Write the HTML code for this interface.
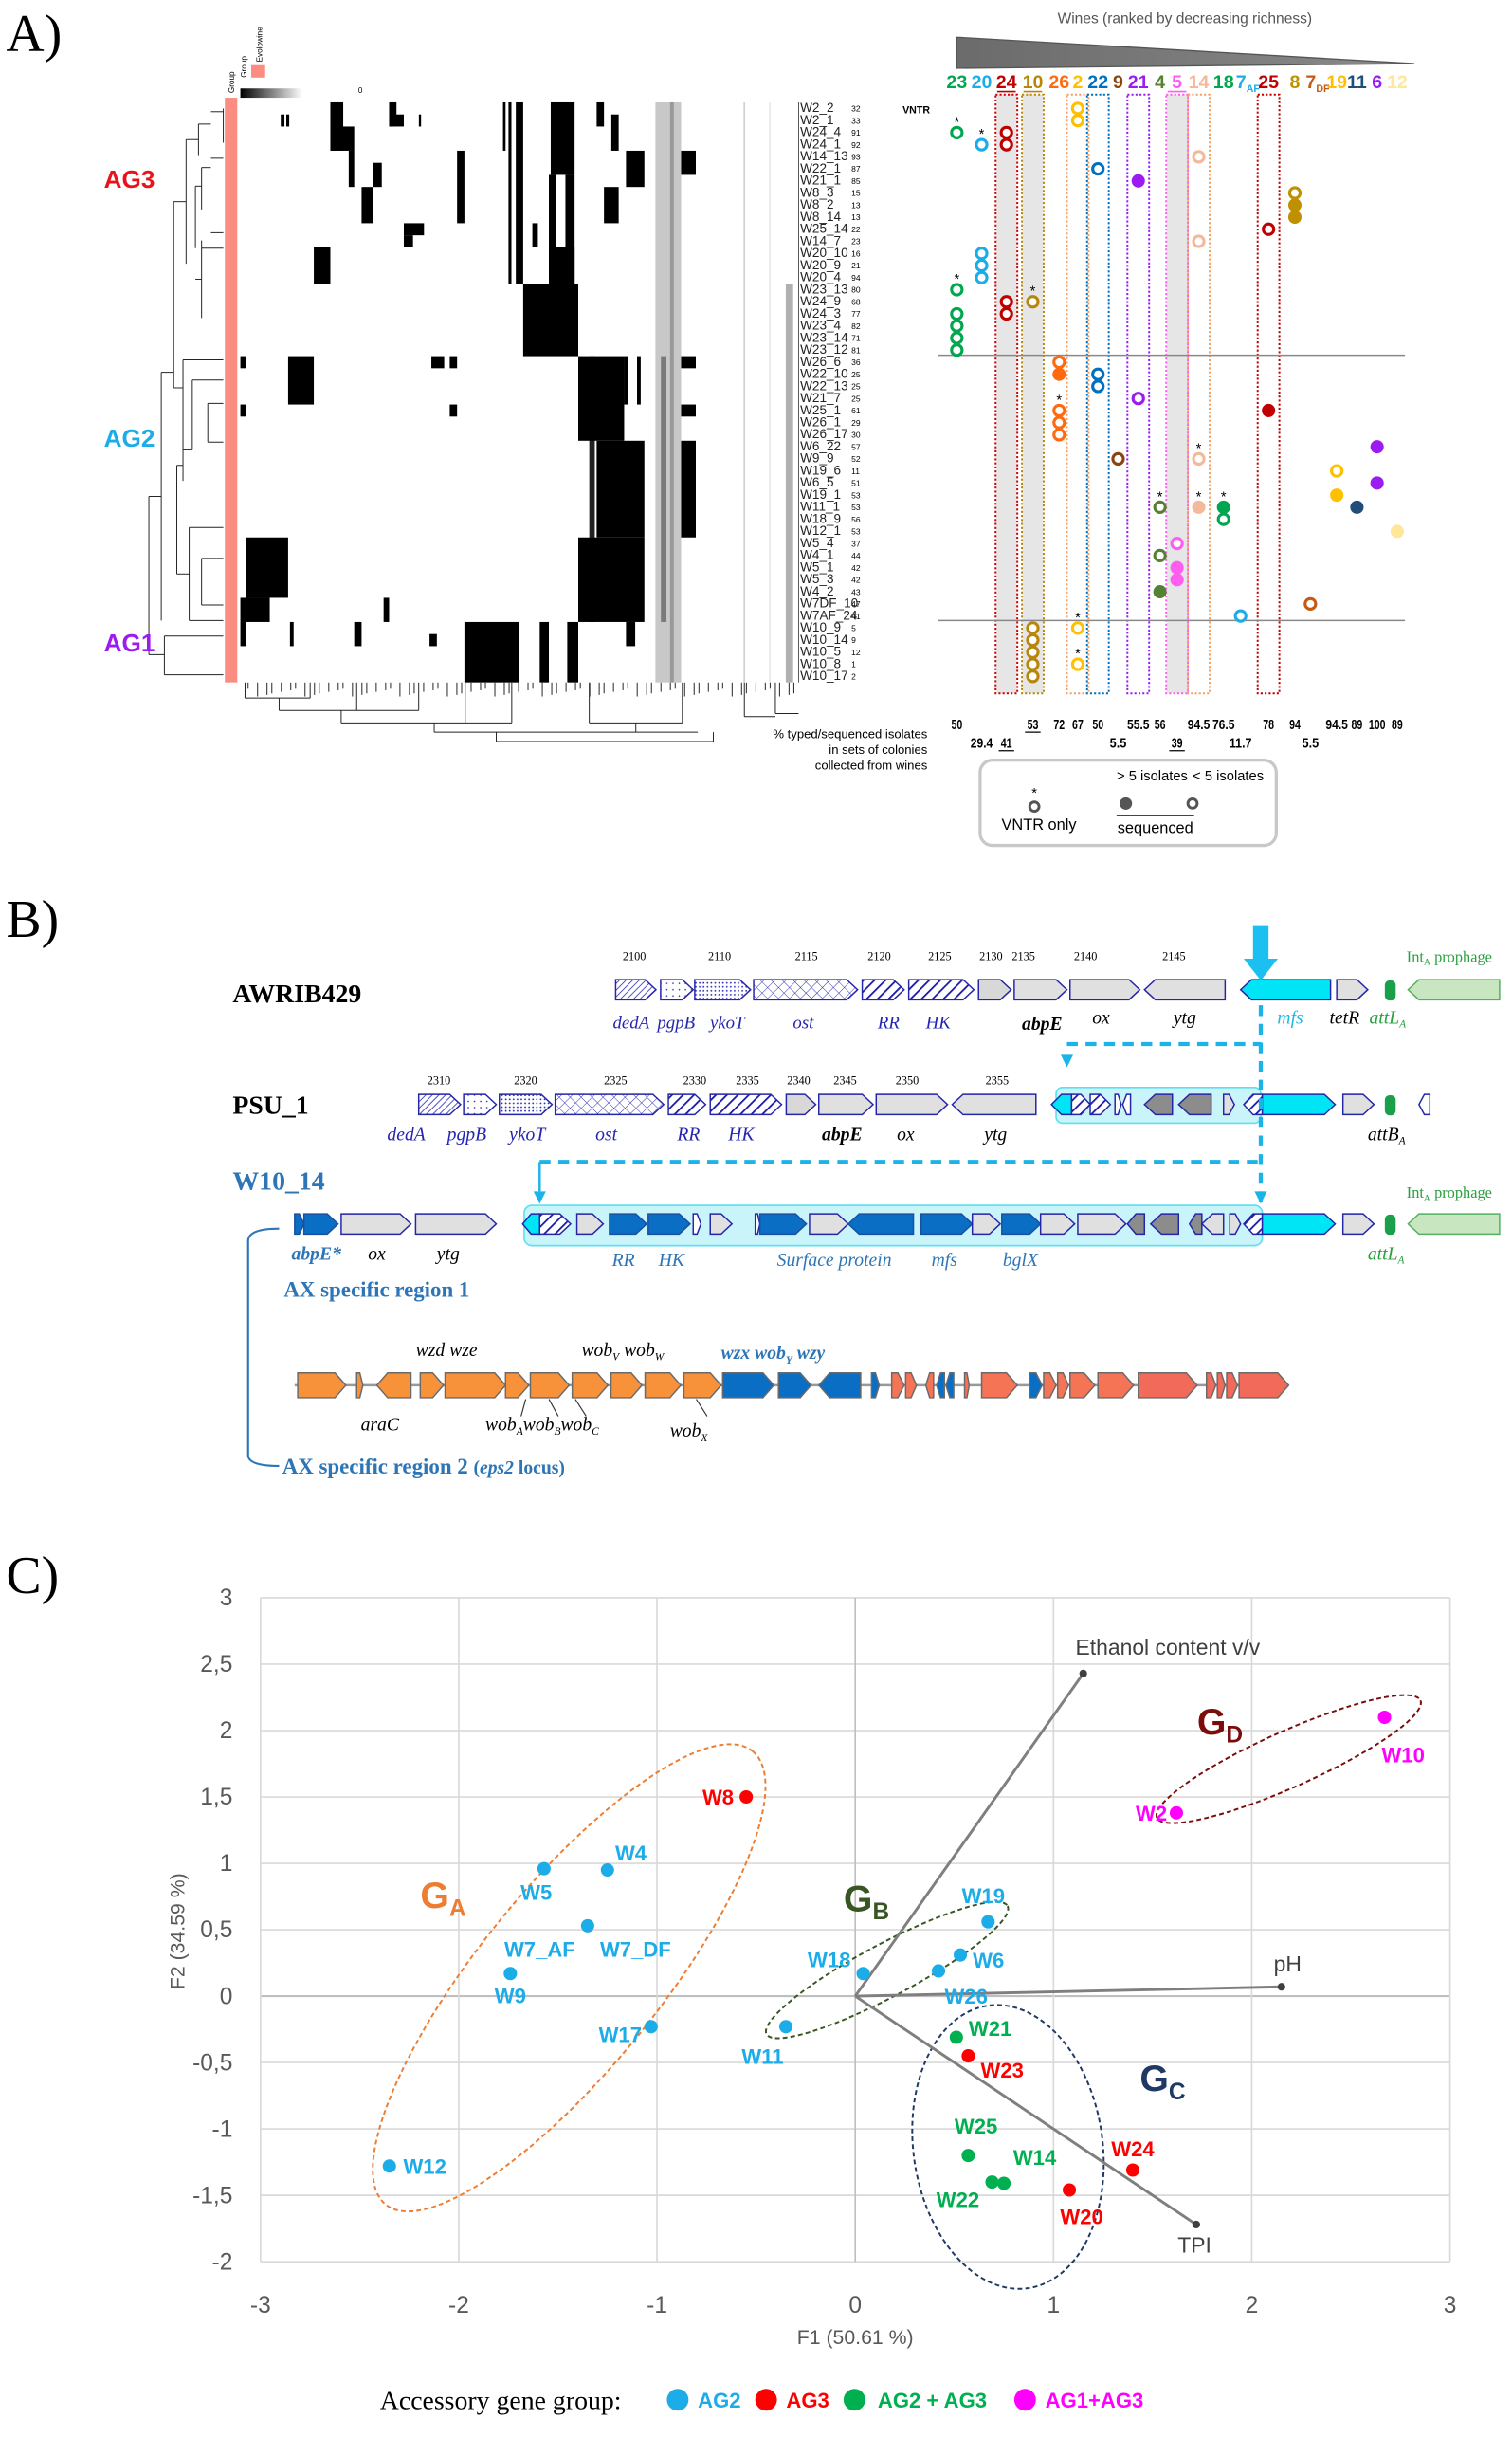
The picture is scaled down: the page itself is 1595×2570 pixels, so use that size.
<!DOCTYPE html>
<html><head><meta charset="utf-8"><title>Figure</title>
<style>
html,body{margin:0;padding:0;background:#fff;}
svg{display:block;}
text{font-family:"Liberation Sans",sans-serif;}
.serif{font-family:"Liberation Serif",serif;}
</style></head>
<body>
<svg id="fig" xmlns="http://www.w3.org/2000/svg" width="1595" height="2570" viewBox="0 0 975 1571" preserveAspectRatio="none">
<defs>
<pattern id="hatchFine" patternUnits="userSpaceOnUse" width="3" height="3" patternTransform="rotate(45)"><rect width="3" height="3" fill="#fff"/><line x1="0" y1="0" x2="0" y2="3" stroke="#2b2bb8" stroke-width="1"/></pattern>
<pattern id="hatchBold" patternUnits="userSpaceOnUse" width="5" height="5" patternTransform="rotate(45)"><rect width="5" height="5" fill="#fff"/><line x1="0" y1="0" x2="0" y2="5" stroke="#1a1aa8" stroke-width="2.2"/></pattern>
<pattern id="dots" patternUnits="userSpaceOnUse" width="4" height="4"><rect width="4" height="4" fill="#fff"/><circle cx="2" cy="2" r="0.5" fill="#2b2bb8"/></pattern>
<pattern id="dotsDense" patternUnits="userSpaceOnUse" width="2.5" height="2.5"><rect width="2.5" height="2.5" fill="#fff"/><circle cx="1.2" cy="1.2" r="0.55" fill="#2b2bb8"/></pattern>
<pattern id="cross" patternUnits="userSpaceOnUse" width="5" height="5" patternTransform="rotate(45)"><rect width="5" height="5" fill="#fff"/><line x1="0" y1="0" x2="0" y2="5" stroke="#2b2bb8" stroke-width="0.6"/><line x1="0" y1="0" x2="5" y2="0" stroke="#2b2bb8" stroke-width="0.6"/></pattern>
<linearGradient id="gradBar" x1="0" x2="1"><stop offset="0" stop-color="#000"/><stop offset="1" stop-color="#fff"/></linearGradient>
<linearGradient id="wedgeGrad" x1="0" x2="1"><stop offset="0" stop-color="#6b6b6b"/><stop offset="1" stop-color="#8a8a8a"/></linearGradient>
</defs>
</svg>
<script>
// ================= PANEL C DATA =================
const pcaWines = ["W8","W5","W4","W7","W9","W17","W12","W11","W18","W19","W6","W26","W21","W23","W25","W14","W22","W20","W24","W2","W10"];
const pcaF1 = [-0.55,-1.57,-1.25,-1.35,-1.74,-1.03,-2.35,-0.35,0.04,0.67,0.53,0.42,0.51,0.57,0.57,0.75,0.69,1.08,1.40,1.62,2.67];
const pcaF2 = [1.50,0.96,0.95,0.53,0.17,-0.23,-1.28,-0.23,0.17,0.56,0.31,0.19,-0.31,-0.45,-1.20,-1.41,-1.40,-1.46,-1.31,1.38,2.10];
const pcaGroup = ["AG3","AG2","AG2","AG2","AG2","AG2","AG2","AG2","AG2","AG2","AG2","AG2","AG2+AG3","AG3","AG2+AG3","AG2+AG3","AG2+AG3","AG3","AG3","AG1+AG3","AG1+AG3"];
const vecNames = ["Ethanol content v/v","pH","TPI"];
const vecF1 = [1.15,2.15,1.72];
const vecF2 = [2.43,0.07,-1.72];
const xTicks = [-3,-2,-1,0,1,2,3];
const yTicks = [3,2.5,2,1.5,1,0.5,0,-0.5,-1,-1.5,-2];

// ================= PANEL A DATA =================
const rowLabels = ["W2_2","W2_1","W24_4","W24_1","W14_13","W22_1","W21_1","W8_3","W8_2","W8_14","W25_14","W14_7","W20_10","W20_9","W20_4","W23_13","W24_9","W24_3","W23_4","W23_14","W23_12","W26_6","W22_10","W22_13","W21_7","W25_1","W26_1","W26_17","W6_22","W9_9","W19_6","W6_5","W19_1","W11_1","W18_9","W12_1","W5_4","W4_1","W5_1","W5_3","W4_2","W7DF_10","W7AF_24","W10_9","W10_14","W10_5","W10_8","W10_17"];
const vntr = [32,33,91,92,93,87,85,15,13,13,22,23,16,21,94,80,68,77,82,71,81,36,25,25,25,61,29,30,57,52,11,51,53,53,56,53,37,44,42,42,43,47,41,5,9,12,1,2];
const wineCols = ["23","20","24","10","26","2","22","9","21","4","5","14","18","7AF","25","8","7DF","19","11","6","12"];
const wineColors = ["#00a650","#1cace8","#c00000","#b8860b","#ff6a10","#ffc000","#0070c0","#8b4513","#9b1bf0","#548235","#ff5cf0","#f4b99a","#00a650","#1cace8","#c00000","#bf9000","#c55a11","#ffc000","#1f4e79","#9b1bf0","#ffe699"];
const wineUnder = ["24","10","5"];
const boxedCols = ["24","10","2","22","21","5","14","25"];
const pctTop = ["50","","","53","72","67","50","","55.5","56","","94.5","76.5","","78","94","","94.5","89","100","89"];
const pctBot = ["","29.4","41","","","","","5.5","","","39","","","11.7","","","5.5","","","",""];
// markers: [wine, row, filled(1)/open(0), star(1)]
const markers = [
 ["2",0,0,0],["2",1,0,0],["23",2,0,1],["20",3,0,1],["24",2,0,0],["24",3,0,0],
 ["14",4,0,0],["22",5,0,0],["21",6,1,0],["8",7,0,0],["8",8,1,0],["8",9,1,0],
 ["25",10,0,0],["14",11,0,0],["20",12,0,0],["20",13,0,0],["20",14,0,0],
 ["23",15,0,1],["24",16,0,0],["24",17,0,0],["10",16,0,1],
 ["23",17,0,0],["23",18,0,0],["23",19,0,0],["23",20,0,0],
 ["26",21,0,0],["26",22,1,0],["26",25,0,1],["26",26,0,0],["26",27,0,0],
 ["22",22,0,0],["22",23,0,0],["21",24,0,0],["25",25,1,0],
 ["6",28,1,0],["9",29,0,0],["14",29,0,1],["19",30,0,0],["6",31,1,0],["19",32,1,0],
 ["11",33,1,0],["12",35,1,0],["4",33,0,1],["14",33,1,1],["18",33,1,1],["18",34,0,0],
 ["5",36,0,0],["4",37,0,0],["5",38,1,0],["5",39,1,0],["4",40,1,0],
 ["7DF",41,0,0],["7AF",42,0,0],["2",43,0,1],["2",46,0,1],
 ["10",43,0,0],["10",44,0,0],["10",45,0,0],["10",46,0,0],["10",47,0,0]
];
// heatmap blocks: [col0,col1,row0,row1] on a 152-column grid
const hmBlocks = [
 [24.5,28,0,4],[24.5,31,2,4],[40.5,42.5,0,2],[40.5,44.5,1,2],[29.5,31,4,7],[36,38.5,5,7],[33,36,7,10],
 [44.5,50,10,11],[44.5,47,11,12],[20,24.5,12,15],[77,92,15,21],[92,104.5,21,28],[104.5,105.5,21,25],
 [108,109,21,25],[97,110,28,36],[92,110,36,43],[120,124,28,36],[120,124,21,22],[120,124,25,26],
 [13,20,21,25],[52,55.5,21,22],[57,59,21,22],[57,59,25,26],[0,1.5,21,22],[0,1.5,25,26],
 [1.5,13,36,41],[0,8,41,43],[0,1.5,43,45],[61,76,43,48],[81.5,84,43,48],[89,92,43,48],[105,107.5,43,45],
 [13.5,14.5,43,45],[31,33,43,45],[51.5,53.5,44,45],[39,40.5,41,43],
 [84.5,91,0,6],[84,86,6,15],[88.5,91,6,15],[84,91,12,15],[75,77,0,15],[73,73.8,0,15],
 [97,99,0,2],[101,103,1,4],[105,110,4,7],[99,103,7,10],[120,124,4,6],[59,61,4,10],[79.5,81,10,12],
 [11,12,1,2],[12.5,13.3,1,2],[71.5,72.2,0,4],[48.6,49.2,1,2]
];
const hmGray = [[113,120,0,48,"#c8c8c8"],[114.5,116,21,43,"#7a7a7a"],[117,118,0,48,"#999"],[148.5,150.5,15,48,"#b0b0b0"],[137,137.4,0,48,"#ccc"],[144,144.3,0,48,"#ddd"],[95,96.5,21,43,"#222"]];

// ================= BUILD =================
const NS="http://www.w3.org/2000/svg";
const svg=document.getElementById('fig');
function mk(tag,attrs,name,parent){
 const el=document.createElementNS(NS,tag);
 for(const k in attrs) el.setAttribute(k,attrs[k]);
 
 
 (parent||svg).appendChild(el);
 return el;
}
function txt(x,y,s,attrs,name,parent){
 const a=Object.assign({x:x,y:y},attrs||{});
 const t=mk('text',a,name,parent);
 t.textContent=s;
 return t;
}
function sub(t,main,subs,subSize,extra){
 t.textContent='';
 const a=document.createElementNS(NS,'tspan');a.textContent=main;t.appendChild(a);
 const b=document.createElementNS(NS,'tspan');b.textContent=subs;b.setAttribute('font-size',subSize);b.setAttribute('dy',subSize*0.35);t.appendChild(b);
 if(extra){const c=document.createElementNS(NS,'tspan');c.textContent=extra;c.setAttribute('dy',-subSize*0.35);t.appendChild(c);}
}

// ---------- Panel labels ----------
txt(4,33,"A)",{"font-size":34,class:"serif"},"panel-a-label");
txt(4,604,"B)",{"font-size":34,class:"serif"},"panel-b-label");
txt(4,1027,"C)",{"font-size":34,class:"serif"},"panel-c-label");

// ================= PANEL A =================
const gA=mk('g',{},"panel-a");
const HX0=155,HX1=515,HY0=66,RH=7.79,NC=152;
const HC=(c)=>HX0+c*(HX1-HX0)/NC;
const HR=(r)=>HY0+r*RH;
mk('rect',{x:145,y:HY0-3,width:8,height:HR(48)-HY0+3,fill:"#fa8c82"},"group-color-bar",gA);
mk('rect',{x:155,y:57,width:40,height:6,fill:"url(#gradBar)"},"color-scale-bar",gA);
txt(231,60,"0",{"font-size":5},"scale-zero-label",gA);
mk('rect',{x:162,y:42,width:9,height:8,fill:"#fa8c82"},"legend-evolowine-swatch",gA);
txt(0,0,"Group",{"font-size":5,transform:"translate(151,60) rotate(-90)"},"group-axis-label",gA);
txt(0,0,"Group",{"font-size":5,transform:"translate(159,50) rotate(-90)"},"legend-group-title",gA);
txt(0,0,"Evolowine",{"font-size":5,transform:"translate(169,40) rotate(-90)"},"legend-evolowine-label",gA);
hmGray.forEach(b=>{
 mk('rect',{x:HC(b[0]),y:HR(b[2]),width:HC(b[1])-HC(b[0]),height:HR(b[3])-HR(b[2]),fill:b[4]},"heatmap-gray-stripe",gA);
});
hmBlocks.forEach(b=>{
 mk('rect',{x:HC(b[0]),y:HR(b[2]),width:HC(b[1])-HC(b[0]),height:HR(b[3])-HR(b[2]),fill:"#000"},"heatmap-cell",gA);
});
txt(582,73,"VNTR",{"font-size":6.5,"font-weight":"bold"},"vntr-header",gA);
rowLabels.forEach((l,i)=>{
 txt(516,HR(i)+RH*0.8,l,{"font-size":8.3,fill:"#222"},"row-label",gA);
 txt(549,HR(i)+RH*0.75,String(vntr[i]),{"font-size":5.2},"vntr-value",gA);
});
mk('line',{x1:515,y1:HY0,x2:515,y2:HR(48),stroke:"#555","stroke-width":0.6},"label-separator",gA);
const dend=mk('g',{fill:"none",stroke:"#222","stroke-width":0.6},"row-dendrogram",gA);
const dl=[[144,70,144,92],[136,72,144,72],[128,80,136,80],[128,80,128,100],[120,90,128,90],[120,90,120,170],[112,130,120,130],
[136,102,144,102],[130,108,136,108],[130,108,130,135],[126,120,130,120],[126,120,126,160],[136,150,144,150],[130,160,144,160],[130,155,130,205],[126,180,130,180],
[112,130,112,250],[104,240,112,240],[104,240,104,400],[96,320,104,320],[96,320,96,422],[106,422,96,422],[106,410,106,435],[106,410,144,410],[106,435,144,435],
[112,250,118,250],[118,232,118,310],[118,232,144,232],[124,245,144,245],[124,245,124,290],[118,290,124,290],[114,300,114,370],[114,300,118,300],[114,370,122,370],[122,340,122,400],[122,340,144,340],[122,400,144,400],[130,360,144,360],[130,360,130,390],[130,390,144,390],[134,260,144,260],[134,260,134,285],[134,285,144,285]];
dl.forEach(s=>{mk('line',{x1:s[0],y1:s[1],x2:s[2],y2:s[3]},"dendrogram-branch",dend);});
const dendB=mk('g',{fill:"none",stroke:"#222","stroke-width":0.6},"column-dendrogram",gA);
const db=[[158,440,158,450],[158,450,200,450],[180,450,180,458],[180,458,270,458],[220,458,220,466],[220,466,330,466],[200,440,200,450],[230,440,230,458],[270,440,270,458],
[300,440,300,466],[330,440,330,466],[280,466,280,472],[280,472,450,472],[320,478,320,472],[320,478,460,478],[380,440,380,466],[380,466,440,466],[410,466,410,472],
[440,440,440,466],[460,472,460,478],[500,440,500,460],[500,460,515,460],[480,440,480,462],[480,462,500,462]];
db.forEach(s=>{mk('line',{x1:s[0],y1:s[1],x2:s[2],y2:s[3]},"dendrogram-branch",dendB);});
for(let k=0;k<70;k++){const x=160+k*5.1+((k*7)%3);mk('line',{x1:x,y1:440,x2:x,y2:444+((k*5)%6)},"dendrogram-leaf",dendB);}
txt(67,121,"AG3",{"font-size":16,"font-weight":"bold",fill:"#e8141c"},"ag3-label",gA);
txt(67,288,"AG2",{"font-size":16,"font-weight":"bold",fill:"#1cace8"},"ag2-label",gA);
txt(67,420,"AG1",{"font-size":16,"font-weight":"bold",fill:"#9b1bf0"},"ag1-label",gA);

const colX=(w)=>[617,633,649,666,683,695,708,721,734,748,759,773,789,800,818,835,845,862,875,888,901][wineCols.indexOf(w)];
txt(764,15,"Wines (ranked by decreasing richness)",{"font-size":9.5,fill:"#555","text-anchor":"middle"},"wines-title",gA);
mk('polygon',{points:"617,24 912,41 617,44",fill:"url(#wedgeGrad)",stroke:"#555","stroke-width":0.8},"richness-wedge",gA);
const boxDash={"24":"#d00000","10":"#b8860b","2":"#f4a060","22":"#0070c0","21":"#9b1bf0","5":"#ff5cf0","14":"#f4a060","25":"#c00000"};
boxedCols.forEach(w=>{
 const x=colX(w);
 if(w==="24"||w==="10"||w==="5") mk('rect',{x:x-6.5,y:61,width:13,height:386,fill:"#e6e6e6"},"column-shade",gA);
 mk('rect',{x:x-7,y:61,width:14,height:386,fill:"none",stroke:boxDash[w],"stroke-width":1.2,"stroke-dasharray":"1.3,1.3"},"wine-column-box",gA);
});
mk('line',{x1:605,y1:229,x2:906,y2:229,stroke:"#888","stroke-width":0.9},"group-separator-1",gA);
mk('line',{x1:605,y1:400,x2:906,y2:400,stroke:"#888","stroke-width":0.9},"group-separator-2",gA);
wineCols.forEach((w,i)=>{
 const x=colX(w);
 let t;
 if(w==="7AF"||w==="7DF"){
  t=txt(x-3,57,"",{"font-size":12,fill:wineColors[i],"font-weight":"bold"},"wine-column-header",gA);
  sub(t,"7",w.slice(1),6.5);
 } else {
  t=txt(x,57,w,{"font-size":12,fill:wineColors[i],"text-anchor":"middle","font-weight":"bold"},"wine-column-header",gA);
 }
 if(wineUnder.indexOf(w)>=0) mk('line',{x1:x-6,y1:59,x2:x+6,y2:59,stroke:wineColors[i],"stroke-width":1},"header-underline",gA);
 if(pctTop[i]) txt(x,470,pctTop[i],{"font-size":9,"font-weight":"bold","text-anchor":"middle","textLength":pctTop[i].length*3.6,lengthAdjust:"spacingAndGlyphs"},"percent-value",gA);
 if(pctBot[i]) txt(x,482,pctBot[i],{"font-size":9,"font-weight":"bold","text-anchor":"middle","textLength":pctBot[i].length*3.6,lengthAdjust:"spacingAndGlyphs"},"percent-value",gA);
 if(pctTop[i]==="53"||pctBot[i]==="41"||pctBot[i]==="39"){const yy=pctTop[i]==="53"?472:484;mk('line',{x1:x-5,y1:yy,x2:x+5,y2:yy,stroke:"#000","stroke-width":0.8},"percent-underline",gA);}
});
markers.forEach(m=>{
 const i=wineCols.indexOf(m[0]);
 const x=colX(m[0]), y=HR(m[1])+RH/2, c=wineColors[i];
 mk('circle',{cx:x,cy:y,r:m[2]?4.3:3.4,fill:m[2]?c:"#fff",stroke:c,"stroke-width":m[2]?0:1.9},"isolate-marker",gA);
 if(m[3]) txt(x,y-4,"*",{"font-size":9,"text-anchor":"middle"},"vntr-only-star",gA);
});
["% typed/sequenced isolates","in sets of colonies","collected from wines"].forEach((s,k)=>{
 txt(598,476+k*10,s,{"font-size":8,"text-anchor":"end"},"percent-caption",gA);
});
mk('rect',{x:632,y:490,width:191,height:55,rx:8,fill:"#fff",stroke:"#c8c8c8","stroke-width":2},"marker-legend-box",gA);
txt(743,503,"> 5 isolates",{"font-size":9,"text-anchor":"middle"},"legend-more-5",gA);
txt(792,503,"< 5 isolates",{"font-size":9,"text-anchor":"middle"},"legend-less-5",gA);
txt(667,514,"*",{"font-size":9,"text-anchor":"middle"},"legend-star",gA);
mk('circle',{cx:667,cy:520,r:3,fill:"#fff",stroke:"#555","stroke-width":1.8},"legend-vntr-marker",gA);
txt(670,535,"VNTR  only",{"font-size":10,"text-anchor":"middle"},"legend-vntr-label",gA);
mk('circle',{cx:726,cy:518,r:4,fill:"#555"},"legend-filled-marker",gA);
mk('circle',{cx:769,cy:518,r:3,fill:"#fff",stroke:"#555","stroke-width":1.8},"legend-open-marker",gA);
mk('line',{x1:720,y1:526,x2:770,y2:526,stroke:"#444","stroke-width":0.7},"legend-sequenced-line",gA);
txt(745,537,"sequenced",{"font-size":10,"text-anchor":"middle"},"legend-sequenced-label",gA);

// ================= PANEL B =================
const gB=mk('g',{},"panel-b");
function gene(x0,x1,cy,dir,fill,stroke,name,h){
 h=h||13;const t=Math.min(7,(x1-x0)*0.5);let p;
 if(dir>0) p=[[x0,cy-h/2],[x1-t,cy-h/2],[x1,cy],[x1-t,cy+h/2],[x0,cy+h/2]];
 else p=[[x1,cy-h/2],[x0+t,cy-h/2],[x0,cy],[x0+t,cy+h/2],[x1,cy+h/2]];
 mk('polygon',{points:p.map(q=>q.join(',')).join(' '),fill:fill,stroke:stroke||"#2525a8","stroke-width":0.9},name,gB);
}
const LG="#e0e0e0", BL="#0a6ec4", CY="#00e5f5", GR="#8c8c8c";
txt(150,646,"AWRIB429",{"font-size":17,"font-weight":"bold",class:"serif"},"strain-awrib429",gB);
const y1=638;
[[397,423,1,"url(#hatchFine)"],[426,447,1,"url(#dots)"],[448,484,1,"url(#dotsDense)"],[486,553,1,"url(#cross)"],[556,583,1,"url(#hatchBold)"],[586,628,1,"url(#hatchBold)"],
 [631,652,1,"#d8d8d8"],[654,688,1,LG],[690,735,1,LG],[738,790,-1,LG]].forEach(g=>gene(g[0],g[1],y1,g[2],g[3],null,"gene-arrow"));
gene(800,858,y1,-1,CY,"#2525a8","gene-mfs");gene(862,882,y1,1,LG,null,"gene-tetr");
mk('rect',{x:893,y:632,width:7,height:13,rx:3,fill:"#1aa04a"},"att-site",gB);
gene(908,967,y1,-1,"#c8e6c0","#52b060","prophage-arrow");
[["2100",409],["2110",464],["2115",520],["2120",567],["2125",606],["2130",639],["2135",660],["2140",700],["2145",757]].forEach(n=>txt(n[1],619,n[0],{"font-size":7.5,"text-anchor":"middle",class:"serif"},"locus-number",gB));
[["dedA",407],["pgpB",436],["ykoT",469],["ost",518],["RR",573],["HK",605]].forEach(n=>txt(n[1],663,n[0],{"font-size":11.5,"font-style":"italic",fill:"#2525b0","text-anchor":"middle",class:"serif"},"gene-label",gB));
txt(672,664,"abpE",{"font-size":12,"font-style":"italic","font-weight":"bold","text-anchor":"middle",class:"serif"},"gene-label",gB);
txt(710,660,"ox",{"font-size":12,"font-style":"italic","text-anchor":"middle",class:"serif"},"gene-label",gB);
txt(764,660,"ytg",{"font-size":12,"font-style":"italic","text-anchor":"middle",class:"serif"},"gene-label",gB);
txt(832,660,"mfs",{"font-size":12,"font-style":"italic",fill:"#20b8e0","text-anchor":"middle",class:"serif"},"gene-label",gB);
txt(867,660,"tetR",{"font-size":12,"font-style":"italic","text-anchor":"middle",class:"serif"},"gene-label",gB);
let t=txt(883,660,"",{"font-size":12,"font-style":"italic",fill:"#2aa040",class:"serif"},"att-label",gB);sub(t,"attL","A",7);
t=txt(907,620,"",{"font-size":10,fill:"#2aa040",class:"serif"},"prophage-label",gB);sub(t,"Int","A",6," prophage");
mk('polygon',{points:"808,597 818,597 818,618 824,618 813,632 802,618 808,618",fill:"#1cc0f0"},"insertion-arrow",gB);
txt(150,718,"PSU_1",{"font-size":17,"font-weight":"bold",class:"serif"},"strain-psu1",gB);
const y2=712;
mk('rect',{x:681,y:701,width:132,height:23,rx:4,fill:"#c8f4fa",stroke:"#5ee0f0","stroke-width":1},"insert-region-box",gB);
[[270,297,1,"url(#hatchFine)"],[299,320,1,"url(#dots)"],[322,356,1,"url(#dotsDense)"],[358,428,1,"url(#cross)"],[431,455,1,"url(#hatchBold)"],[458,504,1,"url(#hatchBold)"],
 [507,526,1,"#d8d8d8"],[528,563,1,LG],[565,611,1,LG],[614,668,-1,LG],
 [678,691,-1,CY],[691,703,1,"url(#hatchBold)"],[703,716,1,"url(#hatchBold)"],[719,723,1,"#fff"],[724,729,-1,"#fff"],[738,756,-1,GR],[760,781,-1,GR],[789,796,1,LG],[802,814,-1,"url(#hatchBold)"],
 [814,861,1,CY],[866,886,1,LG],[915,922,-1,"#fff"]].forEach(g=>gene(g[0],g[1],y2,g[2],g[3],null,"gene-arrow"));
mk('rect',{x:893,y:706,width:7,height:13,rx:3,fill:"#1aa04a"},"att-site",gB);
[["2310",283],["2320",339],["2325",397],["2330",448],["2335",482],["2340",515],["2345",545],["2350",585],["2355",643]].forEach(n=>txt(n[1],699,n[0],{"font-size":7.5,"text-anchor":"middle",class:"serif"},"locus-number",gB));
[["dedA",262],["pgpB",301],["ykoT",340],["ost",391],["RR",444],["HK",478]].forEach(n=>txt(n[1],735,n[0],{"font-size":12,"font-style":"italic",fill:"#2525b0","text-anchor":"middle",class:"serif"},"gene-label",gB));
txt(543,735,"abpE",{"font-size":12,"font-style":"italic","font-weight":"bold","text-anchor":"middle",class:"serif"},"gene-label",gB);
txt(584,735,"ox",{"font-size":12,"font-style":"italic","text-anchor":"middle",class:"serif"},"gene-label",gB);
txt(642,735,"ytg",{"font-size":12,"font-style":"italic","text-anchor":"middle",class:"serif"},"gene-label",gB);
t=txt(882,735,"",{"font-size":12,"font-style":"italic",class:"serif"},"att-label",gB);sub(t,"attB","A",7);
const dsh={stroke:"#1cb4e8","stroke-width":2.6,"stroke-dasharray":"7,5",fill:"none"};
mk('line',Object.assign({x1:688,y1:673,x2:813,y2:673},dsh),"dashed-connector",gB);
mk('line',Object.assign({x1:813,y1:648,x2:813,y2:775},dsh),"dashed-connector",gB);
mk('line',Object.assign({x1:348,y1:749,x2:813,y2:749},dsh),"dashed-connector",gB);
mk('polygon',{points:"684,680 692,680 688,688",fill:"#1cb4e8"},"connector-arrowhead",gB);
mk('line',{x1:348,y1:749,x2:348,y2:768,stroke:"#1cb4e8","stroke-width":1.5},"connector-stem",gB);
mk('polygon',{points:"344,768 352,768 348,776",fill:"#1cb4e8"},"connector-arrowhead",gB);
mk('polygon',{points:"809,768 817,768 813,776",fill:"#1cb4e8"},"connector-arrowhead",gB);
txt(150,767,"W10_14",{"font-size":17,"font-weight":"bold",fill:"#2e75b6",class:"serif"},"strain-w10-14",gB);
const y3=789;
mk('rect',{x:338,y:777,width:476,height:26,rx:5,fill:"#c8f4fa",stroke:"#5ee0f0","stroke-width":1},"insert-region-box",gB);
[[190,196,1,BL],[196,218,1,BL],[220,265,1,LG],[268,320,1,LG],
 [337,348,-1,CY],[348,368,1,"url(#hatchBold)"],[372,389,1,LG],[393,417,1,BL],[418,445,1,BL],[447,452,1,"#fff"],[458,472,1,LG],[487,490,1,"#fff"],[490,520,1,BL],[522,547,1,LG],[547,589,-1,BL],[594,627,1,BL],[627,645,1,LG],[646,671,1,BL],[671,693,1,LG],[695,726,1,LG],[727,738,-1,GR],[742,760,-1,GR],[767,775,-1,GR],[775,789,-1,LG],[793,800,1,LG],[802,814,-1,"url(#hatchBold)"],
 [814,861,1,CY],[866,886,1,LG]].forEach(g=>gene(g[0],g[1],y3,g[2],g[3],g[3]===BL?"#1a50a0":null,"gene-arrow"));
mk('rect',{x:893,y:783,width:7,height:13,rx:3,fill:"#1aa04a"},"att-site",gB);
gene(908,967,y3,-1,"#c8e6c0","#52b060","prophage-arrow");
t=txt(907,772,"",{"font-size":10,fill:"#2aa040",class:"serif"},"prophage-label",gB);sub(t,"Int","A",6," prophage");
txt(188,812,"abpE*",{"font-size":12,"font-style":"italic","font-weight":"bold",fill:"#2e75b6",class:"serif"},"gene-label",gB);
txt(243,812,"ox",{"font-size":12,"font-style":"italic","text-anchor":"middle",class:"serif"},"gene-label",gB);
txt(289,812,"ytg",{"font-size":12,"font-style":"italic","text-anchor":"middle",class:"serif"},"gene-label",gB);
[["RR",402],["HK",433],["Surface protein",538],["mfs",609],["bglX",658]].forEach(n=>txt(n[1],816,n[0],{"font-size":12,"font-style":"italic",fill:"#2e75b6","text-anchor":"middle",class:"serif"},"gene-label",gB));
t=txt(882,812,"",{"font-size":12,"font-style":"italic",fill:"#2aa040",class:"serif"},"att-label",gB);sub(t,"attL","A",7);
txt(183,836,"AX specific region 1",{"font-size":14,"font-weight":"bold",fill:"#2e75b6",class:"serif"},"ax-region-1-label",gB);
mk('path',{d:"M180,792 Q160,792 160,800 L160,938 Q160,945 180,945",fill:"none",stroke:"#2e75b6","stroke-width":1.3},"region-bracket",gB);
const y4=893;
mk('line',{x1:190,y1:y4,x2:830,y2:y4,stroke:"#999","stroke-width":1.5},"locus-backbone",gB);
const OR="#f7923a", SA="#f47455", SB="#f26a5a";
[[192,223,1,OR],[230,234,1,OR],[243,265,-1,OR],[271,286,1,OR],[287,326,1,OR],[326,341,1,OR],[342,367,1,OR],[369,392,1,OR],[394,414,1,OR],[416,439,1,OR],[441,465,1,OR],
 [466,499,1,BL],[502,523,1,BL],[528,555,-1,BL],[562,567,1,BL],[575,583,1,SA],[584,591,1,SA],[597,602,-1,SA],[604,609,-1,BL],[610,615,-1,BL],[622,625,1,SA],
 [633,656,1,SA],[664,672,1,BL],[673,681,1,SA],[682,689,1,SA],[690,706,1,SA],[708,731,1,SA],[734,772,1,SB],[778,784,1,SB],[785,790,1,SB],[791,798,1,SB],[799,831,1,SB]]
 .forEach(g=>gene(g[0],g[1],y4,g[2],g[3],"#6a6a6a","eps2-gene-arrow",16));
txt(288,874,"wzd wze",{"font-size":12,"font-style":"italic","text-anchor":"middle",class:"serif"},"gene-label",gB);
t=txt(375,874,"",{"font-size":12,"font-style":"italic",class:"serif"},"gene-label",gB);
t.innerHTML='wob<tspan font-size="7" dy="3">V</tspan><tspan dy="-3"> wob</tspan><tspan font-size="7" dy="3">W</tspan>';
t=txt(465,876,"",{"font-size":12,"font-style":"italic","font-weight":"bold",fill:"#2e75b6",class:"serif"},"gene-label",gB);
t.innerHTML='wzx wob<tspan font-size="7" dy="3">Y</tspan><tspan dy="-3"> wzy</tspan>';
[[339,902,336,913],[354,902,360,913],[371,902,378,913],[449,902,456,913]].forEach(s=>mk('line',{x1:s[0],y1:s[1],x2:s[2],y2:s[3],stroke:"#333","stroke-width":0.7},"label-leader",gB));
txt(245,922,"araC",{"font-size":12,"font-style":"italic","text-anchor":"middle",class:"serif"},"gene-label",gB);
t=txt(313,922,"",{"font-size":12,"font-style":"italic",class:"serif"},"gene-label",gB);
t.innerHTML='wob<tspan font-size="7" dy="3">A</tspan><tspan dy="-3">wob</tspan><tspan font-size="7" dy="3">B</tspan><tspan dy="-3">wob</tspan><tspan font-size="7" dy="3">C</tspan>';
t=txt(432,926,"",{"font-size":12,"font-style":"italic",class:"serif"},"gene-label",gB);
t.innerHTML='wob<tspan font-size="7" dy="3">X</tspan>';
t=txt(182,950,"",{"font-size":14,"font-weight":"bold",fill:"#2e75b6",class:"serif"},"ax-region-2-label",gB);
t.innerHTML='AX specific region 2 <tspan font-size="12" font-weight="bold">(<tspan font-style="italic">eps2</tspan> locus)</tspan>';

// ================= PANEL C =================
const gC=mk('g',{},"panel-c");
const X=(v)=>168+(v+3)*(935-168)/6;
const Y=(v)=>1030+(3-v)*(1458-1030)/5;
yTicks.forEach(v=>{
 mk('line',{x1:X(-3),y1:Y(v),x2:X(3),y2:Y(v),stroke:v===0?"#bfbfbf":"#d9d9d9","stroke-width":v===0?1.3:1},"y-gridline",gC);
 txt(X(-3)-18,Y(v)+5,String(v).replace('.',','),{"font-size":15,fill:"#595959","text-anchor":"end"},"y-tick-label",gC);
});
xTicks.forEach(v=>{
 mk('line',{x1:X(v),y1:Y(3),x2:X(v),y2:Y(-2),stroke:v===0?"#bfbfbf":"#d9d9d9","stroke-width":1},"x-gridline",gC);
 txt(X(v),Y(-2)+33,String(v),{"font-size":15,fill:"#595959","text-anchor":"middle"},"x-tick-label",gC);
});
txt(X(0),1511,"F1 (50.61 %)",{"font-size":13,fill:"#595959","text-anchor":"middle"},"x-axis-title",gC);
txt(0,0,"F2 (34.59 %)",{"font-size":13,fill:"#595959","text-anchor":"middle",transform:"translate(119,1245) rotate(-90)"},"y-axis-title",gC);
mk('ellipse',{cx:367,cy:1275,rx:188,ry:58,transform:"rotate(-51 367 1275)",fill:"none",stroke:"#ed7d31","stroke-width":1.2,"stroke-dasharray":"3,2"},"group-a-ellipse",gC);
mk('ellipse',{cx:572,cy:1270,rx:88,ry:17,transform:"rotate(-28 572 1270)",fill:"none",stroke:"#375623","stroke-width":1.2,"stroke-dasharray":"3,2"},"group-b-ellipse",gC);
mk('ellipse',{cx:650,cy:1384,rx:61,ry:92,transform:"rotate(-8 650 1384)",fill:"none",stroke:"#1f3864","stroke-width":1.2,"stroke-dasharray":"3,2"},"group-c-ellipse",gC);
mk('ellipse',{cx:831,cy:1134,rx:93,ry:18,transform:"rotate(-24 831 1134)",fill:"none",stroke:"#7b0c0c","stroke-width":1.2,"stroke-dasharray":"3,2"},"group-d-ellipse",gC);
vecNames.forEach((n,i)=>{
 mk('line',{x1:X(0),y1:Y(0),x2:X(vecF1[i]),y2:Y(vecF2[i]),stroke:"#7f7f7f","stroke-width":1.8},"variable-vector",gC);
 mk('circle',{cx:X(vecF1[i]),cy:Y(vecF2[i]),r:2.5,fill:"#404040"},"vector-end",gC);
});
txt(X(vecF1[0])-5,Y(vecF2[0])-12,vecNames[0],{"font-size":14,fill:"#404040"},"vector-label-ethanol",gC);
txt(X(vecF1[1])-5,Y(vecF2[1])-10,vecNames[1],{"font-size":14,fill:"#404040"},"vector-label-ph",gC);
txt(X(vecF1[2])-12,Y(vecF2[2])+18,vecNames[2],{"font-size":14,fill:"#404040"},"vector-label-tpi",gC);
const grpColor={"AG2":"#1cace8","AG3":"#ff0000","AG2+AG3":"#00b050","AG1+AG3":"#ff00ff"};
const lblOff={W8:[-8,5,"end"],W5:[-5,20,"middle"],W4:[5,-6,"start"],W9:[0,19,"middle"],W17:[-6,10,"end"],W12:[9,5,"start"],W11:[-15,24,"middle"],W18:[-8,-4,"end"],W19:[-3,-12,"middle"],W6:[8,8,"start"],W26:[4,21,"start"],W21:[8,-1,"start"],W23:[8,14,"start"],W25:[5,-14,"middle"],W14:[6,-12,"start"],W22:[-22,16,"middle"],W20:[8,22,"middle"],W24:[0,-9,"middle"],W2:[-6,5,"end"],W10:[12,29,"middle"]};
pcaWines.forEach((w,i)=>{
 const x=X(pcaF1[i]), y=Y(pcaF2[i]), c=grpColor[pcaGroup[i]];
 mk('circle',{cx:x,cy:y,r:4.3,fill:c},"pca-point-"+w.toLowerCase(),gC);
 if(w==="W7"){
  txt(x-8,y+20,"W7_AF",{"font-size":13.5,"font-weight":"bold",fill:c,"text-anchor":"end"},"point-label",gC);
  txt(x+8,y+20,"W7_DF",{"font-size":13.5,"font-weight":"bold",fill:c},"point-label",gC);
 } else {
  const o=lblOff[w];
  txt(x+o[0],y+o[1],w,{"font-size":13.5,"font-weight":"bold",fill:c,"text-anchor":o[2]},"point-label",gC);
 }
});
t=txt(271,1230,"",{"font-size":24,"font-weight":"bold",fill:"#ed7d31"},"group-a-label",gC);sub(t,"G","A",15);
t=txt(544,1232,"",{"font-size":24,"font-weight":"bold",fill:"#375623"},"group-b-label",gC);sub(t,"G","B",15);
t=txt(735,1348,"",{"font-size":24,"font-weight":"bold",fill:"#1f3864"},"group-c-label",gC);sub(t,"G","C",15);
t=txt(772,1118,"",{"font-size":24,"font-weight":"bold",fill:"#7b0c0c"},"group-d-label",gC);sub(t,"G","D",15);
txt(245,1553,"Accessory gene group:",{"font-size":17,class:"serif"},"legend-title",gC);
[["AG2",437,450],["AG3",494,507],["AG2 + AG3",551,566],["AG1+AG3",661,674]].forEach(l=>{
 mk('circle',{cx:l[1],cy:1547,r:7,fill:grpColor[l[0].replace(/ /g,'')]},"legend-dot",gC);
 txt(l[2],1552,l[0],{"font-size":13.5,"font-weight":"bold",fill:grpColor[l[0].replace(/ /g,'')]},"legend-entry",gC);
});
</script>
</body></html>
